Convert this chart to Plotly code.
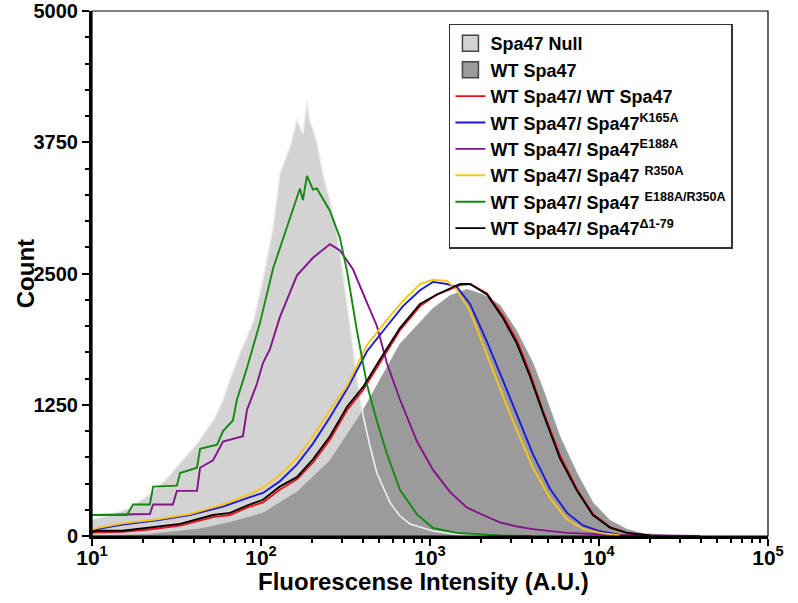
import plotly.graph_objects as go

# ---------------- data ----------------
null_x = [10, 12.8, 16.8, 21.1, 27.0, 33.2, 41.8, 52.0, 59.6, 65.6, 75.2, 82.6, 90, 102.8, 113, 118,
          129, 143, 149, 163, 170, 177, 187, 195, 203, 214, 233, 256, 282, 305, 327, 350, 375, 402,
          442, 485, 542, 579, 664, 762, 1042, 1507, 2594]
null_y = [160, 200, 270, 380, 530, 700, 880, 1100, 1300, 1500, 1750, 1900, 2050, 2450, 2800, 2950,
          3450, 3650, 3720, 3970, 3900, 3830, 4150, 3950, 3880, 3760, 3450, 3200, 2880, 2520, 2150,
          1800, 1450, 1150, 850, 600, 420, 320, 190, 115, 48, 10, 0]

wt_x = [10, 21.1, 43.6, 65.6, 102.8, 163, 256, 402, 664, 1042, 1312, 1656, 2061, 2594, 3273,
        4064, 4667, 5875, 7413, 9204, 11614, 14655, 18197, 30130]
wt_y = [0, 15, 70, 130, 220, 420, 720, 1200, 1830, 2170, 2290, 2350, 2300, 2200, 1950,
        1650, 1400, 950, 600, 320, 150, 65, 25, 0]

bk_x = [10, 10.7, 15.2, 21.1, 33.2, 52.0, 65.6, 82.6, 102.8, 129, 163, 203, 256, 323, 402, 506,
        557, 664, 873, 1099, 1507, 1726, 2173, 2704, 3273, 3908, 4667, 5875, 7413, 9204, 11614,
        14655, 20045]
black_y = [40, 50, 50, 75, 115, 200, 220, 290, 345, 470, 560, 730, 950, 1230, 1420, 1680,
           1790, 1980, 2210, 2300, 2400, 2400, 2300, 2075, 1830, 1520, 1170, 740, 430, 200, 80,
           30, 5]
red_y = [30, 35, 40, 60, 100, 180, 200, 270, 320, 440, 540, 700, 920, 1200, 1390, 1650,
         1770, 1960, 2190, 2300, 2390, 2400, 2310, 2100, 1860, 1550, 1190, 770, 445, 210, 85,
         30, 5]

yb_x = [10, 10.7, 15.2, 24.3, 38.0, 59.6, 86.1, 102.8, 129, 163, 203, 256, 323, 424, 557, 692,
        873, 1042, 1260, 1445, 1726, 2173, 2704, 3273, 4064, 5129, 6471, 8035, 10139, 13300]
yellow_y = [60, 76, 120, 160, 210, 300, 400, 460, 580, 740, 950, 1200, 1430, 1820, 2060, 2240,
            2400, 2440, 2430, 2340, 2140, 1720, 1330, 1000, 650, 360, 160, 67, 30, 5]
blue_y = [50, 65, 110, 150, 200, 280, 370, 410, 520, 680, 880, 1130, 1400, 1760, 2000, 2190,
          2340, 2420, 2400, 2370, 2210, 1850, 1480, 1150, 780, 450, 220, 100, 45, 10]

green_x = [10, 16.1, 17.5, 22.0, 23.0, 31.8, 33.2, 41.8, 43.6, 55, 59.6, 68.2, 72.1, 82.6, 98.6,
           118, 143, 170, 177, 187, 203, 214, 256, 293, 323, 370, 424, 485, 557, 664, 838, 1042,
           1445, 2594, 4000]
green_y = [200, 200, 300, 300, 470, 480, 600, 650, 830, 870, 1000, 1100, 1300, 1600, 2030,
           2550, 2950, 3310, 3200, 3430, 3300, 3310, 3095, 2840, 2520, 1950, 1440, 1095, 780, 440,
           205, 76, 30, 5, 0]

purple_x = [10, 22.0, 23.0, 30.1, 31.8, 41.8, 43.6, 52.0, 59.6, 78.2, 82.6, 94.6, 102.8, 113, 129,
            163, 203, 223, 256, 293, 350, 424, 485, 557, 664, 838, 1042, 1312, 1656, 2061, 2594,
            3273, 4064, 6471, 13300, 39600]
purple_y = [200, 210, 300, 300, 430, 430, 650, 720, 900, 950, 1200, 1450, 1650, 1780, 2080,
            2480, 2650, 2700, 2780, 2720, 2540, 2220, 2000, 1640, 1300, 900, 630, 420, 270, 200,
            130, 90, 65, 30, 10, 0]

names = ["WT Spa47/ WT Spa47", "WT Spa47/ Spa47<sup>K165A</sup>", "WT Spa47/ Spa47<sup>E188A</sup>",
         "WT Spa47/ Spa47 <sup>R350A</sup>", "WT Spa47/ Spa47 <sup>E188A/R350A</sup>",
         "WT Spa47/ Spa47<sup>Δ1-79</sup>"]
x_tickvals = [10, 100, 1000, 10000, 100000]
x_ticktext = ["10<sup>1</sup>", "10<sup>2</sup>", "10<sup>3</sup>", "10<sup>4</sup>", "10<sup>5</sup>"]
y_tickvals = [0, 1250, 2500, 3750, 5000]

FONT = "Liberation Sans, Arial, sans-serif"
LIGHT = "#d3d3d3"
DARK = "#9b9b9b"

fig = go.Figure()

# filled histograms
fig.add_trace(go.Scatter(x=null_x, y=null_y, mode="lines", fill="tozeroy", fillcolor=LIGHT,
                         line=dict(color=LIGHT, width=0.5), showlegend=False, hoverinfo="skip"))
fig.add_trace(go.Scatter(x=wt_x, y=wt_y, mode="lines", fill="tozeroy", fillcolor=DARK,
                         line=dict(color=DARK, width=0.5), showlegend=False, hoverinfo="skip"))
# light outline of the null histogram over the dark fill
fig.add_trace(go.Scatter(x=null_x, y=null_y, mode="lines",
                         line=dict(color="#f0f0f0", width=1.6), showlegend=False, hoverinfo="skip"))

# legend swatches for the filled histograms
fig.add_trace(go.Scatter(x=[None], y=[None], mode="markers", name="Spa47 Null",
                         marker=dict(symbol="square", size=17, color=LIGHT,
                                     line=dict(color="#444", width=1.5))))
fig.add_trace(go.Scatter(x=[None], y=[None], mode="markers", name="WT Spa47",
                         marker=dict(symbol="square", size=17, color=DARK,
                                     line=dict(color="#444", width=1.5))))

line_data = [
    (bk_x, red_y, "#e8141c"),
    (yb_x, blue_y, "#1b1bd6"),
    (purple_x, purple_y, "#84128a"),
    (yb_x, yellow_y, "#f7c519"),
    (green_x, green_y, "#138a13"),
    (bk_x, black_y, "#000000"),
]
for (xs, ys, col), nm in zip(line_data, names):
    fig.add_trace(go.Scatter(x=xs, y=ys, mode="lines", name=nm,
                             line=dict(color=col, width=1.9)))

fig.update_xaxes(
    type="log", range=[1, 5], tickmode="array", tickvals=x_tickvals, ticktext=x_ticktext,
    ticks="outside", ticklen=7, tickwidth=2, tickcolor="black", ticklabeloverflow="allow",
    ticklabelstandoff=-6, automargin=False,
    showline=True, linewidth=3, linecolor="black", showgrid=False, zeroline=False,
    tickfont=dict(family=FONT, size=21, color="black", weight="bold"),
    minor=dict(tickvals=[20, 30, 40, 50, 60, 70, 80, 90, 200, 300, 400, 500, 600, 700, 800, 900,
                         2000, 3000, 4000, 5000, 6000, 7000, 8000, 9000,
                         20000, 30000, 40000, 50000, 60000, 70000, 80000, 90000],
               ticks="outside", ticklen=4, tickwidth=1.5, tickcolor="black"),
)
fig.update_yaxes(
    range=[0, 5000], tickmode="array", tickvals=y_tickvals,
    ticks="outside", ticklen=7, tickwidth=2, tickcolor="black", ticklabeloverflow="allow",
    automargin=False,
    showline=True, linewidth=3, linecolor="black", showgrid=False, zeroline=False,
    tickfont=dict(family=FONT, size=20, color="black", weight="bold"),
    minor=dict(tickmode="linear", tick0=0, dtick=250, ticks="outside", ticklen=4,
               tickwidth=1.5, tickcolor="black"),
)

# axis titles
fig.add_annotation(text="Fluorescense Intensity (A.U.)", xref="paper", yref="paper",
                   x=0.49, y=-0.086, xanchor="center", yanchor="middle", showarrow=False,
                   font=dict(family=FONT, size=24, color="black", weight="bold"))
fig.add_annotation(text="Count", xref="paper", yref="paper", textangle=-90,
                   x=-0.098, y=0.5, xanchor="center", yanchor="middle", showarrow=False,
                   font=dict(family=FONT, size=24, color="black", weight="bold"))

fig.add_shape(type="rect", xref="paper", yref="paper", x0=0, y0=0, x1=1, y1=1,
              line=dict(color="black", width=1.2), layer="above")

fig.update_layout(
    width=798, height=603,
    margin=dict(l=92, r=30, t=11, b=67),
    paper_bgcolor="white", plot_bgcolor="white",
    font=dict(family=FONT, color="black"),
    legend=dict(x=0.528, y=0.976, xanchor="left", yanchor="top",
                bgcolor="white", bordercolor="#333", borderwidth=1.5,
                font=dict(family=FONT, size=18, color="black", weight="bold"),
                tracegroupgap=0, itemwidth=30),
    showlegend=True,
)

fig.write_html("out.html", config={"displayModeBar": False},
               post_script="document.body.style.margin='0';")
